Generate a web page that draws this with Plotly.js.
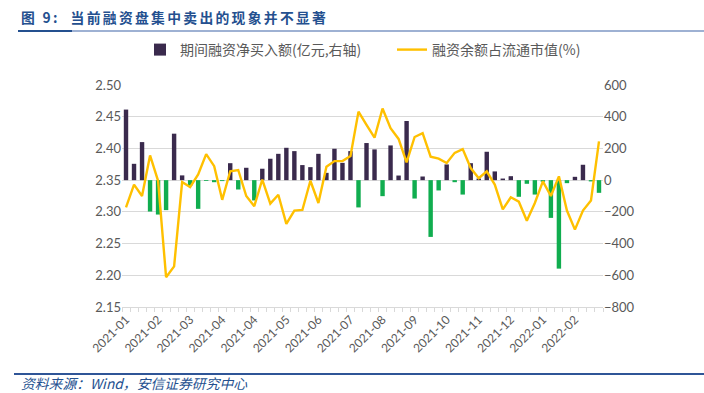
<!DOCTYPE html>
<html>
<head>
<meta charset="utf-8">
<script src="https://cdn.plot.ly/plotly-3.0.1.min.js"></script>
<style>
html,body{margin:0;padding:0;background:#fff;}
#chart{width:704px;height:393px;}
</style>
</head>
<body>
<div id="chart"></div>
<script>
// ---- data (weekly) ----
const netBuy = [445,103,240,-198,-217,-189,293,30,-35,-181,
  -5,-13,-6,107,-59,78,-128,72,135,166,
  204,183,95,82,166,46,198,109,183,-172,
  234,194,-101,219,29,373,-116,23,-358,-65,
  99,-13,-91,107,10,179,55,10,25,-105,
  -23,-91,-10,-238,-558,-19,21,97,-8,-80];
const marginRatio = [2.307,2.343,2.325,2.389,2.349,2.197,2.214,2.347,2.339,2.359,
  2.391,2.372,2.319,2.364,2.366,2.325,2.309,2.351,2.313,2.327,
  2.281,2.302,2.303,2.349,2.314,2.371,2.380,2.380,2.388,2.458,
  2.437,2.417,2.463,2.432,2.415,2.378,2.418,2.424,2.387,2.384,
  2.377,2.393,2.399,2.369,2.353,2.364,2.343,2.304,2.323,2.316,
  2.286,2.314,2.348,2.325,2.356,2.302,2.272,2.302,2.318,2.411];
const tickLabels = ['2021-01','2021-02','2021-03','2021-04','2021-04','2021-05','2021-06',
  '2021-07','2021-08','2021-09','2021-10','2021-11','2021-12','2022-01','2022-02'];
const barName = '期间融资净买入额(亿元,右轴)';
const lineName = '融资余额占流通市值(%)';
const titleText = '图 9:  当前融资盘集中卖出的现象并不显著';
const sourceText = '资料来源：Wind，安信证券研究中心';

const idx = netBuy.map((_, i) => i);
const tickPos = tickLabels.map((_, k) => k * 4);
const barColors = netBuy.map(v => v >= 0 ? '#3A2A4D' : '#10AD4F');

const FONT = 'Lato, "Noto Sans CJK SC", sans-serif';
const CJK = '"Noto Sans CJK SC", Lato, sans-serif';
const GRAY = '#595959';

const traces = [
  {type:'bar', x: idx, y: netBuy, name: barName, yaxis:'y', legend:'legend',
   marker:{color: barColors, line:{width:0}}, width:0.55},
  {type:'scatter', mode:'lines', x: idx, y: marginRatio, name: lineName, yaxis:'y2', legend:'legend2',
   line:{color:'#FFC000', width:2.4}}
];

const W = 704, H = 393;
const L = 122, R = 603, T = 85, B = 307;
const px = v => (v - L) / (R - L);
const py = v => (B - v) / (B - T);
const spaced = s => Array.from(s).join('\u2006');
const legendBase = {orientation:'h', xanchor:'left', yanchor:'middle',
  font:{family: CJK, size: 14, color: GRAY}, itemwidth:30, bgcolor:'rgba(0,0,0,0)'};

const layout = {
  width:W, height:H,
  margin:{l:L, r:W-R, t:T, b:H-B},
  paper_bgcolor:'#fff', plot_bgcolor:'#fff',
  font:{family: FONT, color: GRAY, size: 12},
  showlegend:true,
  legend: Object.assign({}, legendBase, {x: px(140), y: py(50)}),
  legend2: Object.assign({}, legendBase, {x: px(392), y: py(50)}),
  xaxis:{range:[-0.5, 59.5], tickmode:'array', tickvals: tickPos, ticktext: tickLabels,
    tickangle:-45, ticks:'', showgrid:false, zeroline:false,
    showline:true, linecolor:'#D9D9D9', linewidth:1,
    tickfont:{size:12, color: GRAY, family: FONT},
    minor:{ticks:'outside', tick0:-0.5, dtick:1, ticklen:4, tickcolor:'#D9D9D9', showgrid:false}},
  yaxis:{side:'right', range:[-800, 600], dtick:200, tick0:-800, showgrid:true,
    gridcolor:'#D9D9D9', gridwidth:1, zeroline:false, ticks:'', showline:false,
    tickfont:{size:13, color: GRAY}},
  yaxis2:{side:'left', overlaying:'y', range:[2.15, 2.50], dtick:0.05, tick0:2.15,
    tickformat:'.2f', showgrid:false, zeroline:false, ticks:'',
    tickfont:{size:13, color: GRAY}},
  bargap:0.45,
  annotations:[
    {xref:'paper', yref:'paper', x: px(19), y: py(17), xanchor:'left', yanchor:'middle',
     text:'<b>' + spaced(titleText) + '</b>', showarrow:false,
     font:{family: CJK, size:13.8, color:'#24508F'}},
    {xref:'paper', yref:'paper', x: px(19), y: py(383), xanchor:'left', yanchor:'middle',
     text:'<i>' + sourceText + '</i>', showarrow:false,
     font:{family: CJK, size:13.8, color:'#24508F'}}
  ],
  shapes:[
    {type:'line', xref:'paper', yref:'paper', x0: px(18), x1: px(704), y0: py(31), y1: py(31),
     line:{color:'#3E64A8', width:1.2}},
    {type:'line', xref:'paper', yref:'paper', x0: px(18), x1: px(72), y0: py(31), y1: py(31),
     line:{color:'#24508F', width:2}},
    {type:'line', xref:'paper', yref:'paper', x0: px(14), x1: px(704), y0: py(374), y1: py(374),
     line:{color:'#2F5597', width:1.8}}
  ]
};

Plotly.newPlot('chart', traces, layout, {displayModeBar:false, staticPlot:true});
</script>
</body>
</html>
